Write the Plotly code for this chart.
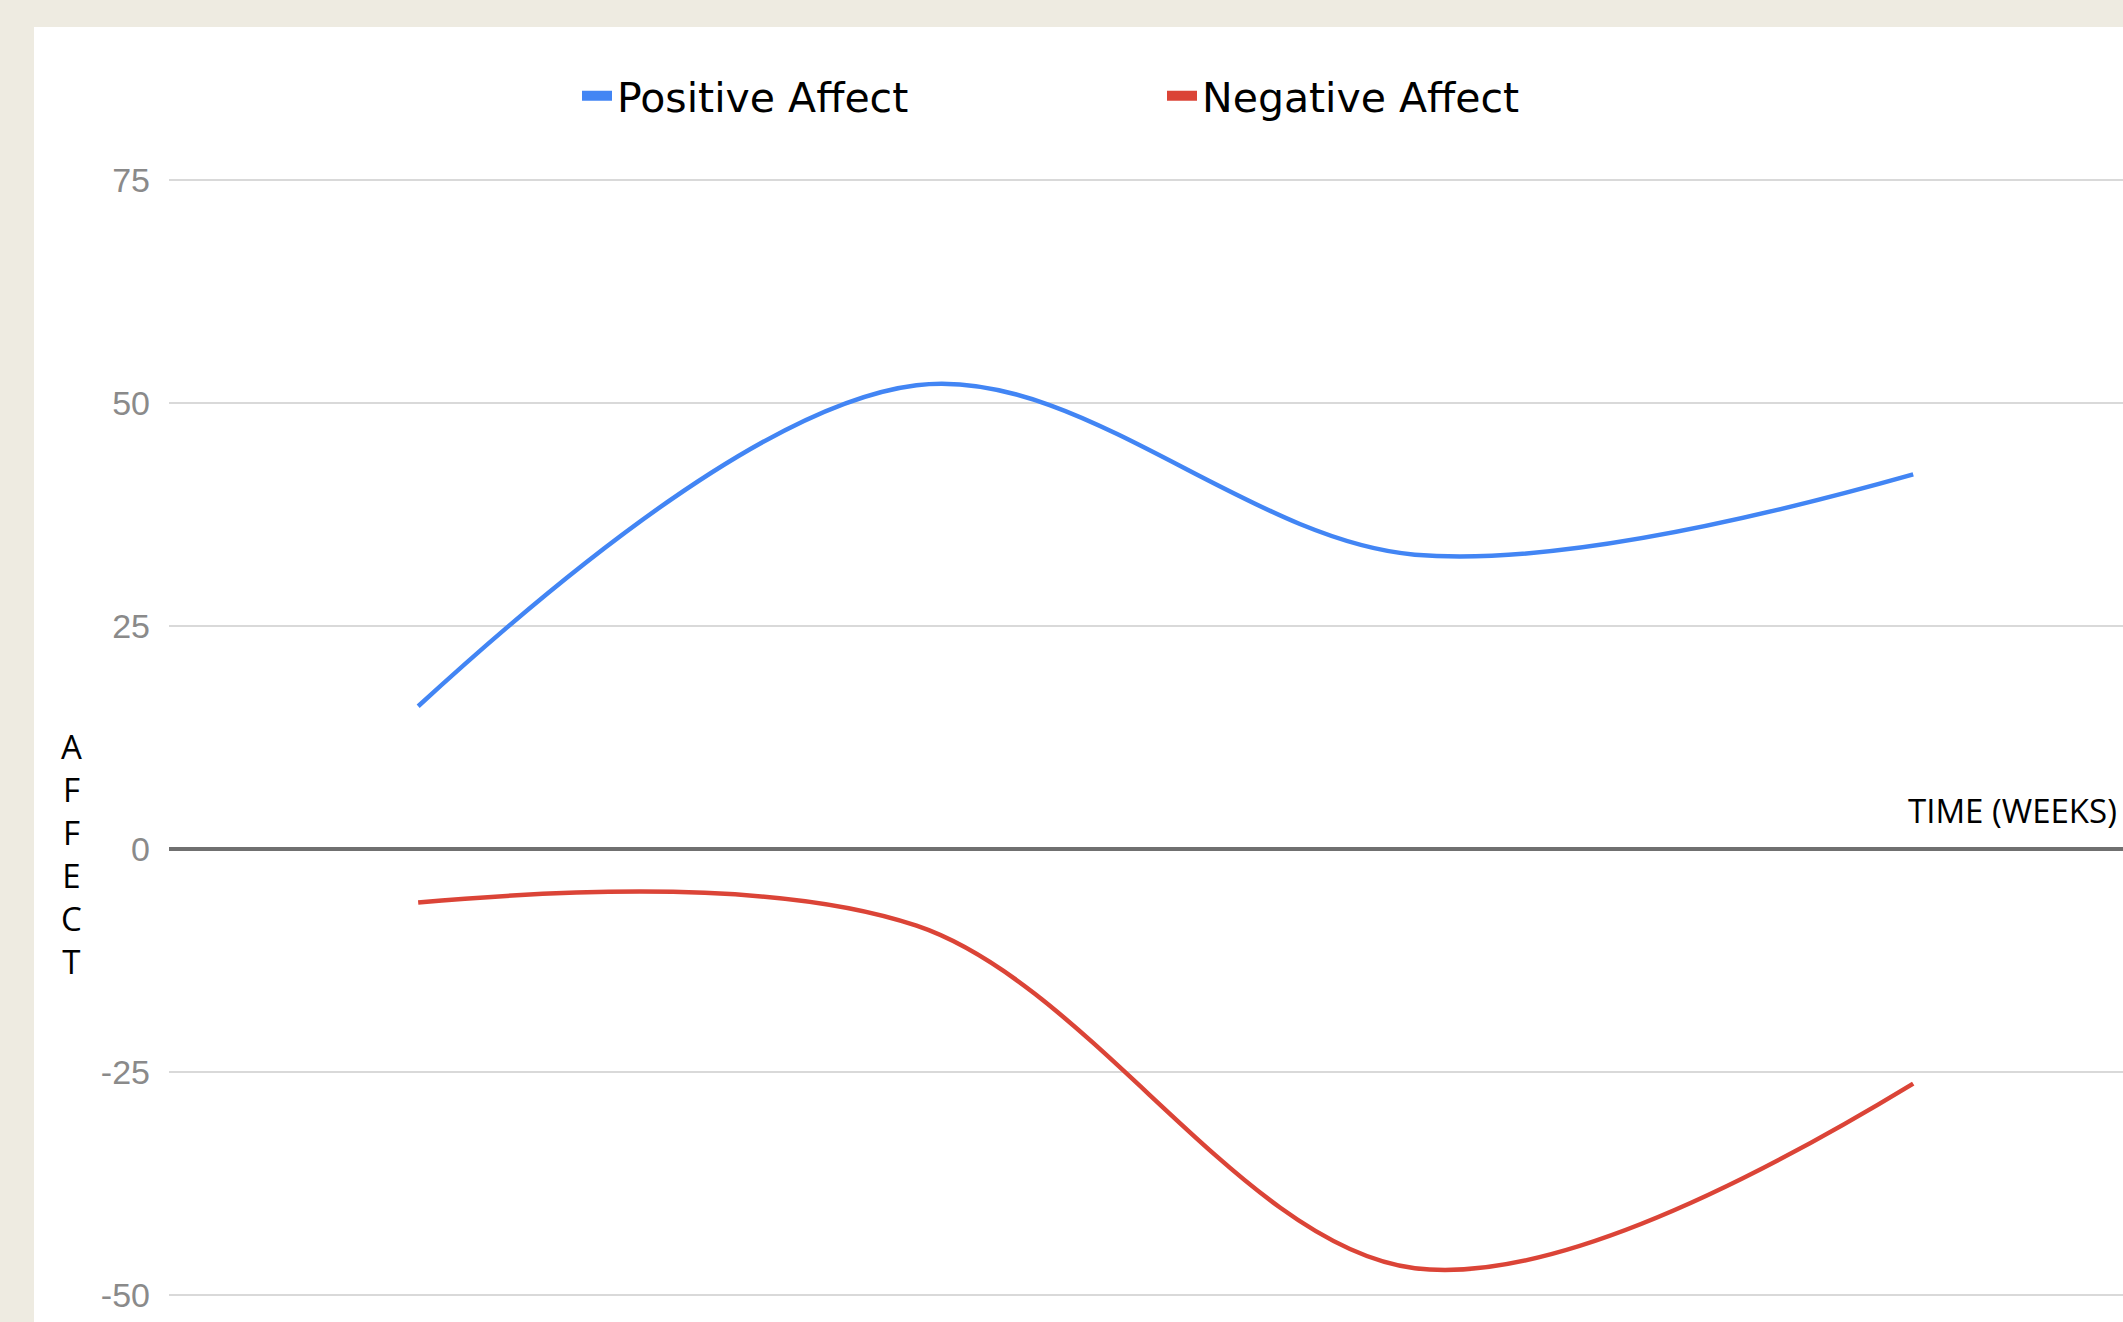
import plotly.graph_objects as go

# ---- data ----
weeks = [1, 2, 3, 4]
positive_affect = [16.0, 52.0, 33.0, 42.0]
negative_affect = [-6.0, -8.6, -47.0, -26.3]
y_ticks = [-50, -25, 0, 25, 50, 75]
y_tick_labels = ["-50", "-25", "0", "25", "50", "75"]
series_names = ["Positive Affect", "Negative Affect"]

# ---- layout geometry (pixels) ----
W, H = 2123, 1322
L, R, T, B = 169, 0, 176, 0
PW, PH = W - L - R, H - T - B
PX_PER_UNIT = 8.92
Y_TOP = 75 + (180 - T) / PX_PER_UNIT
Y_BOTTOM = Y_TOP - PH / PX_PER_UNIT


def px_x(p):
    return (p - L) / PW


def px_y(p):
    return (H - B - p) / PH


BLUE = "#4285F4"
RED = "#DB4437"
BEIGE = "#EEEBE1"

fig = go.Figure()
fig.add_trace(go.Scatter(x=weeks, y=positive_affect, mode="lines",
                         line=dict(color=BLUE, width=4.5, shape="spline"),
                         showlegend=False, name=series_names[0]))
fig.add_trace(go.Scatter(x=weeks, y=negative_affect, mode="lines",
                         line=dict(color=RED, width=4.5, shape="spline"),
                         showlegend=False, name=series_names[1]))
# legend entries
fig.add_trace(go.Scatter(x=[None], y=[None], mode="lines",
                         line=dict(color=BLUE, width=10), name=series_names[0]))
fig.add_trace(go.Scatter(x=[None], y=[None], mode="lines",
                         line=dict(color=RED, width=10), name=series_names[1]))

shapes = [
    dict(type="rect", xref="paper", yref="paper",
         x0=px_x(-20), x1=px_x(34), y0=px_y(H + 20), y1=px_y(-20),
         fillcolor=BEIGE, line=dict(width=0), layer="below"),
    dict(type="rect", xref="paper", yref="paper",
         x0=px_x(-20), x1=px_x(W + 20), y0=px_y(27), y1=px_y(-20),
         fillcolor=BEIGE, line=dict(width=0), layer="below"),
]

annotations = [
    dict(text="A<br>F<br>F<br>E<br>C<br>T", xref="paper", yref="paper",
         x=px_x(71), y=px_y(854), xanchor="center", yanchor="middle",
         showarrow=False, align="center",
         font=dict(family="Open Sans", size=33, color="#000000")),
    dict(text="TIME (WEEKS)", xref="paper", yref="paper",
         x=px_x(2119), y=px_y(810), xanchor="right", yanchor="middle",
         showarrow=False,
         font=dict(family="Open Sans", size=33, color="#000000")),
]

fig.update_layout(
    width=W, height=H,
    margin=dict(l=L, r=R, t=T, b=B, pad=0),
    paper_bgcolor="#FFFFFF",
    plot_bgcolor="#FFFFFF",
    shapes=shapes,
    annotations=annotations,
    legend=dict(orientation="h", x=px_x(577), y=px_y(96),
                xanchor="left", yanchor="middle",
                entrywidth=540, entrywidthmode="pixels",
                font=dict(family="DejaVu Sans", size=41, color="#000000"),
                bgcolor="rgba(0,0,0,0)"),
    xaxis=dict(range=[0.5, 4.421], showgrid=False, zeroline=False,
               showticklabels=False, showline=False, ticks=""),
    yaxis=dict(range=[Y_BOTTOM, Y_TOP], tickvals=y_ticks, ticktext=y_tick_labels,
               showgrid=True, gridcolor="#D9D9D9", gridwidth=2,
               zeroline=True, zerolinecolor="#707070", zerolinewidth=3.5,
               showline=False, ticks="", ticklabelstandoff=18,
               tickfont=dict(family="Liberation Sans", size=34, color="#8A8A8A")),
)

fig.write_html("out.html", config={"displayModeBar": False},
               post_script="document.body.style.margin='0px';document.body.style.overflow='hidden';")
